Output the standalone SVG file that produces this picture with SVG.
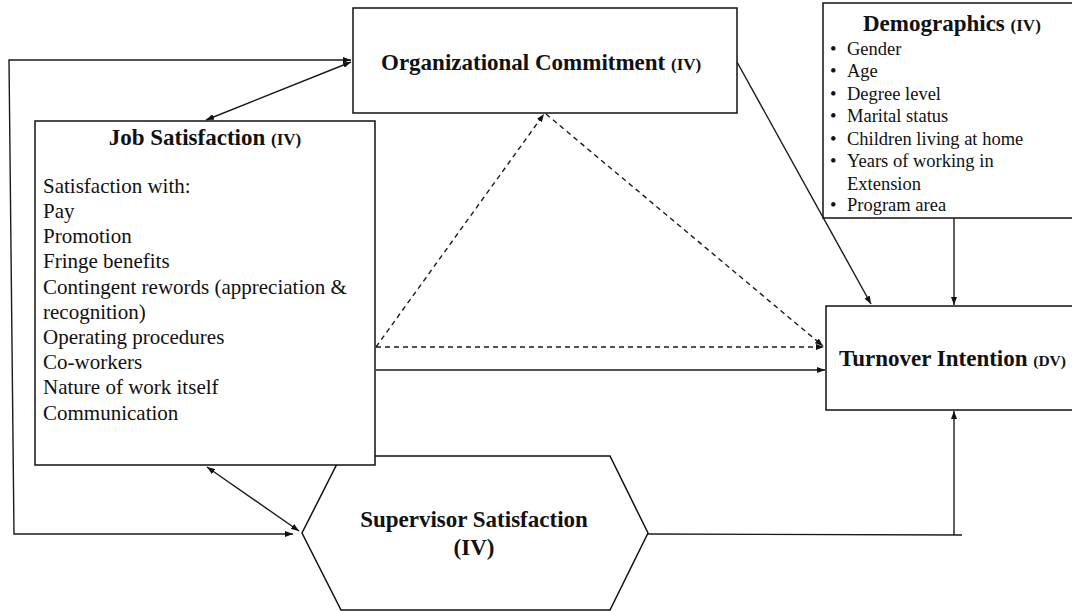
<svg xmlns="http://www.w3.org/2000/svg" width="1072" height="611" viewBox="0 0 1072 611">
<style>
.box{fill:#fff;stroke:#111;stroke-width:1.5}
.t{font-family:"Liberation Serif","Times New Roman",serif;fill:#111}
.b{font-weight:bold;font-size:23px}
.s{font-weight:bold;font-size:17px}
.body{font-size:21px}
.demo{font-size:18.5px}
.ln{fill:none;stroke:#1a1a1a;stroke-width:1.4}
.dash{stroke-dasharray:5,4}
</style>
<defs>
<marker id="ah" viewBox="0 0 8 6" refX="8" refY="3" markerWidth="8" markerHeight="6" markerUnits="userSpaceOnUse" orient="auto-start-reverse">
<path d="M0,0 L8,3 L0,6 z" fill="#111"/>
</marker>
</defs>
<rect width="1072" height="611" fill="#fff"/>

<g id="supervisor">
<polygon class="box" points="341,456 610,456 648,533 610,610 341,610 302,533"/>
<text class="t b" x="474" y="527" text-anchor="middle">Supervisor Satisfaction</text>
<text class="t b" x="474" y="555" text-anchor="middle">(IV)</text>
</g>

<g id="org">
<rect class="box" x="353" y="8" width="384" height="105"/>
<text class="t" x="381" y="70"><tspan class="b">Organizational Commitment </tspan><tspan class="s">(IV)</tspan></text>
</g>

<g id="job">
<rect class="box" x="35" y="121" width="340" height="344"/>
<text class="t" x="205" y="145" text-anchor="middle"><tspan class="b">Job Satisfaction </tspan><tspan class="s">(IV)</tspan></text>
<g class="t body">
<text x="43" y="193">Satisfaction with:</text>
<text x="43" y="218">Pay</text>
<text x="43" y="243">Promotion</text>
<text x="43" y="268">Fringe benefits</text>
<text x="43" y="294">Contingent rewords (appreciation &amp;</text>
<text x="43" y="319">recognition)</text>
<text x="43" y="344">Operating procedures</text>
<text x="43" y="369">Co-workers</text>
<text x="43" y="394">Nature of work itself</text>
<text x="43" y="420">Communication</text>
</g>
</g>

<g id="demographics">
<rect class="box" x="823" y="3" width="260" height="215"/>
<text class="t" x="863" y="31"><tspan class="b">Demographics </tspan><tspan class="s">(IV)</tspan></text>
<g class="t demo">
<text x="830" y="55">•</text><text x="847" y="55">Gender</text>
<text x="830" y="77">•</text><text x="847" y="77">Age</text>
<text x="830" y="100">•</text><text x="847" y="100">Degree level</text>
<text x="830" y="122">•</text><text x="847" y="122">Marital status</text>
<text x="830" y="145">•</text><text x="847" y="145">Children living at home</text>
<text x="830" y="167">•</text><text x="847" y="167">Years of working in</text>
<text x="847" y="190">Extension</text>
<text x="830" y="211">•</text><text x="847" y="211">Program area</text>
</g>
</g>

<g id="turnover">
<rect class="box" x="826" y="306" width="260" height="104"/>
<text class="t" x="839" y="366"><tspan class="b">Turnover Intention </tspan><tspan class="t" style="font-weight:bold;font-size:15.5px">(DV)</tspan></text>
</g>

<g id="connectors">
<polyline class="ln" points="293,534 14,534 9,60 351,60" marker-start="url(#ah)" marker-end="url(#ah)"/>
<line class="ln" x1="351" y1="62" x2="206" y2="120" marker-start="url(#ah)" marker-end="url(#ah)"/>
<line class="ln" x1="207" y1="467" x2="299" y2="531" marker-start="url(#ah)" marker-end="url(#ah)"/>
<line class="ln" x1="737" y1="62" x2="871" y2="304" marker-end="url(#ah)"/>
<line class="ln" x1="954" y1="218" x2="954" y2="305" marker-end="url(#ah)"/>
<line class="ln dash" x1="376" y1="347" x2="544" y2="114" marker-end="url(#ah)"/>
<line class="ln dash" x1="546" y1="114" x2="823" y2="346" marker-end="url(#ah)"/>
<line class="ln dash" x1="376" y1="347" x2="824" y2="347" marker-end="url(#ah)"/>
<line class="ln" x1="376" y1="370" x2="825" y2="370" marker-end="url(#ah)"/>
<polyline class="ln" points="648,534 962,535"/>
<line class="ln" x1="954" y1="535" x2="954" y2="411" marker-end="url(#ah)"/>
</g>
</svg>
